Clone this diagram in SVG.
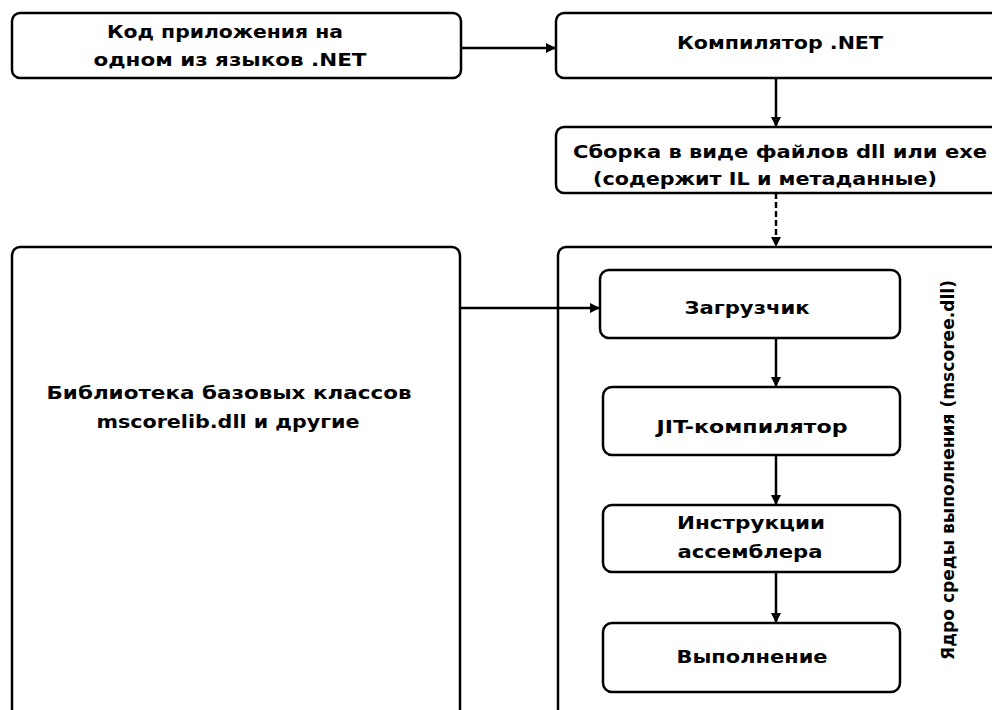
<svg xmlns="http://www.w3.org/2000/svg" width="992" height="710" viewBox="0 0 992 710">
<style>
.box{fill:#fff;stroke:#000;stroke-width:2.5}
.t{font-family:"DejaVu Sans","Liberation Sans",sans-serif;font-size:18px;font-weight:bold;fill:#000;text-anchor:middle}
.c{stroke:#000;stroke-width:2.5;fill:none}
</style>
<defs>
<marker id="ah" viewBox="0 0 10 10" refX="9" refY="5" markerWidth="4" markerHeight="4" orient="auto">
<path d="M0,0 L10,5 L0,10 z" fill="#000"/>
</marker>
</defs>
<rect width="992" height="710" fill="#fff"/>
<g id="code">
<rect class="box" x="12" y="13" width="449" height="65" rx="8"/>
<text class="t" x="225" y="38" textLength="236" lengthAdjust="spacingAndGlyphs">Код приложения на</text>
<text class="t" x="230" y="66" textLength="273" lengthAdjust="spacingAndGlyphs">одном из языков .NET</text>
</g>
<g id="compiler">
<rect class="box" x="556" y="13" width="460" height="65" rx="8"/>
<text class="t" x="780" y="49" textLength="206" lengthAdjust="spacingAndGlyphs">Компилятор .NET</text>
</g>
<g id="assembly">
<rect class="box" x="556" y="127" width="460" height="66" rx="8"/>
<text class="t" x="780" y="158" textLength="414" lengthAdjust="spacingAndGlyphs">Сборка в виде файлов dll или exe</text>
<text class="t" x="765" y="185" textLength="344" lengthAdjust="spacingAndGlyphs">(содержит IL и метаданные)</text>
</g>
<g id="library">
<rect class="box" x="12" y="247" width="448" height="480" rx="8"/>
<text class="t" x="229" y="399" textLength="365" lengthAdjust="spacingAndGlyphs">Библиотека базовых классов</text>
<text class="t" x="228" y="428" textLength="263" lengthAdjust="spacingAndGlyphs">mscorelib.dll и другие</text>
</g>
<g id="runtime">
<rect class="box" x="558" y="247" width="460" height="480" rx="8"/>
<text class="t" transform="translate(954,470) rotate(-90)" textLength="380" lengthAdjust="spacingAndGlyphs">Ядро среды выполнения (mscoree.dll)</text>
</g>
<g id="loader">
<rect class="box" x="600" y="270" width="300" height="68" rx="9"/>
<text class="t" x="747" y="314" textLength="125" lengthAdjust="spacingAndGlyphs">Загрузчик</text>
</g>
<g id="jit">
<rect class="box" x="603" y="387" width="297" height="68" rx="9"/>
<text class="t" x="752" y="433" textLength="191" lengthAdjust="spacingAndGlyphs">JIT-компилятор</text>
</g>
<g id="asm">
<rect class="box" x="603" y="505" width="297" height="67" rx="9"/>
<text class="t" x="751" y="529" textLength="148" lengthAdjust="spacingAndGlyphs">Инструкции</text>
<text class="t" x="750" y="558" textLength="145" lengthAdjust="spacingAndGlyphs">ассемблера</text>
</g>
<g id="exec">
<rect class="box" x="603" y="623" width="297" height="69" rx="9"/>
<text class="t" x="752" y="663" textLength="151" lengthAdjust="spacingAndGlyphs">Выполнение</text>
</g>
<g id="connectors">
<line class="c" x1="461" y1="48" x2="555" y2="48" marker-end="url(#ah)"/>
<line class="c" x1="776" y1="78" x2="776" y2="126" marker-end="url(#ah)"/>
<line class="c" x1="776" y1="193" x2="776" y2="246" stroke-dasharray="6,3" marker-end="url(#ah)"/>
<line class="c" x1="460" y1="308" x2="599" y2="308" marker-end="url(#ah)"/>
<line class="c" x1="776" y1="338" x2="776" y2="386" stroke-width="3.5" marker-end="url(#ah)"/>
<line class="c" x1="776" y1="455" x2="776" y2="504" marker-end="url(#ah)"/>
<line class="c" x1="776" y1="572" x2="776" y2="622" marker-end="url(#ah)"/>
</g>
</svg>
